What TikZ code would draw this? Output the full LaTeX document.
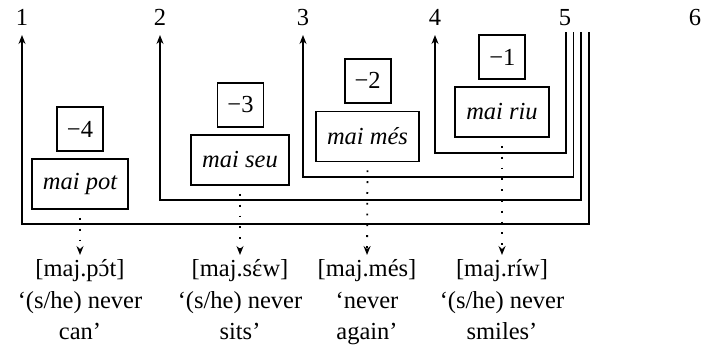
\documentclass[tikz,border=0pt]{standalone}
\usepackage{fontspec}
\setmainfont{Liberation Serif}
\usetikzlibrary{arrows.meta}
\newcommand{\acc}[1]{\accent"00B4 #1}
\begin{document}
\begin{tikzpicture}[x=1pt,y=-1pt, line width=1.8pt,
  font=\fontsize{24.5pt}{31.5pt}\selectfont,
  word/.style={draw, font=\fontsize{24.5pt}{31.5pt}\selectfont\itshape, minimum height=50pt, inner xsep=11pt},
  num/.style={draw, minimum width=46pt, minimum height=44pt, inner sep=0pt},
  gloss/.style={align=center, anchor=north, inner sep=0pt},
  arr/.style={-{Stealth[length=9pt,width=7pt,inset=3pt]}},
  dots/.style={dash pattern=on 1.8pt off 9pt, shorten <=8pt, shorten >=4pt, -{Stealth[length=9pt,width=7pt,inset=3pt]}}]
\useasboundingbox (0,0) rectangle (706,351);
% column numbers
\node[anchor=base] (n1) at (22,25) {1};
\node[anchor=base] (n2) at (160,25) {2};
\node[anchor=base] (n3) at (303,25) {3};
\node[anchor=base] (n4) at (435,25) {4};
\node[anchor=base] (n5) at (565,25) {5};
\node[anchor=base] (n6) at (695,25) {6};
% words
\node[word] (w1) at (80,184) {mai pot};
\node[word] (w2) at (240,160) {mai seu};
\node[word] (w3) at (367.5,136.5) {mai més};
\node[word] (w4) at (502,112) {mai riu};
% numbers
\node[num] (m1) at (80,129) {−4};
\node[num] (m2) at (240.5,105) {−3};
\node[num] (m3) at (367.7,80.7) {−2};
\node[num] (m4) at (502.3,57) {−1};
% brackets
\coordinate (a1) at (589,32);   \coordinate (c1) at (589,224);   \coordinate (b1) at (22,35);
\coordinate (a2) at (581,32);   \coordinate (c2) at (581,200);   \coordinate (b2) at (160,35);
\coordinate (a3) at (573.5,32); \coordinate (c3) at (573.5,177); \coordinate (b3) at (303,35);
\coordinate (a4) at (566,32);   \coordinate (c4) at (566,153);   \coordinate (b4) at (435,35);
\draw[arr] (a1) -- (c1) -| (b1);
\draw[arr] (a2) -- (c2) -| (b2);
\draw[arr] (a3) -- (c3) -| (b3);
\draw[arr] (a4) -- (c4) -| (b4);
% glosses
\node[gloss] (g1) at (80,259) {[maj.p\acc{ɔ}t]\\‘(s/he) never\\can’};
\node[gloss] (g2) at (240,259) {[maj.s\acc{ɛ}w]\\‘(s/he) never\\sits’};
\node[gloss] (g3) at (367,259) {[maj.més]\\‘never\\again’};
\node[gloss] (g4) at (502,259) {[maj.ríw]\\‘(s/he) never\\smiles’};
\draw[dots] (w1.south) -- (g1.north);
\draw[dots] (w2.south) -- (g2.north);
\draw[dots] (w3.south) -- (g3.north);
\draw[dots] (w4.south) -- (g4.north);
\end{tikzpicture}
\end{document}
